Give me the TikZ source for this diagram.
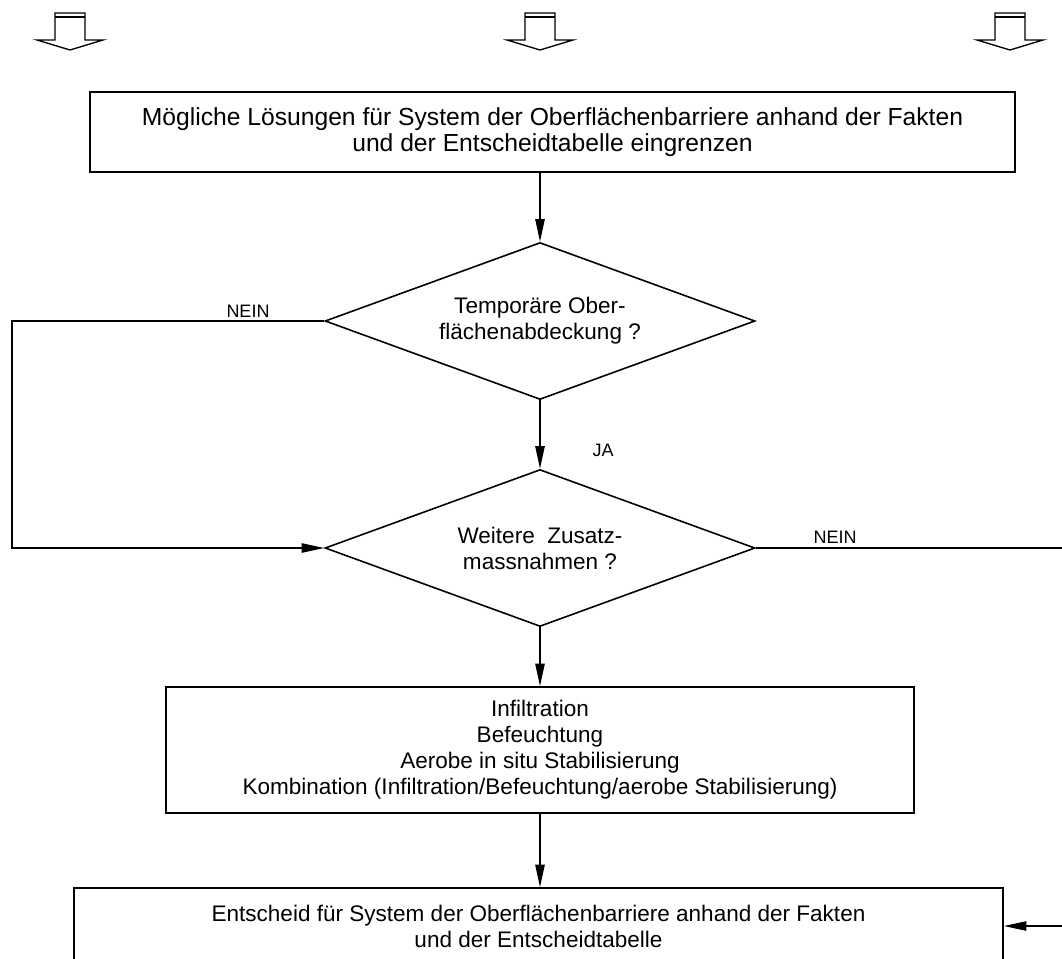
\documentclass[tikz,border=0pt]{standalone}
\usepackage{fontspec}
\setmainfont{Liberation Sans}
\usetikzlibrary{shapes.geometric,arrows.meta}
\begin{document}
\begin{tikzpicture}[x=0.75pt,y=-0.75pt,line width=1.2pt,>={Triangle[length=17pt,width=7pt]},
  kasten/.style={draw,align=center,inner sep=0pt,font=\fontsize{16.9}{19.5}\selectfont},
  raute/.style={draw,diamond,aspect=2.74,inner sep=0pt,minimum width=322.5pt,minimum height=117.75pt,
    align=center,font=\fontsize{16.9}{19.5}\selectfont},
  lbl/.style={font=\fontsize{13.5}{16}\selectfont}]
  \useasboundingbox (0,0) rectangle (1062,958);
  % hohle Pfeile oben
  \foreach \ax in {70,540,1010}{
    \draw[line width=1pt] (\ax-15,13)--(\ax-15,40)--(\ax-33,40)--(\ax,50)--(\ax+33,40)--(\ax+15,40)--(\ax+15,13)--cycle;
    \draw[line width=1pt] (\ax-15,17)--(\ax+15,17);
  }
  % Kasten und Rauten
  \node[kasten,minimum width=693.75pt,minimum height=60pt,font=\fontsize{18.5}{19.5}\selectfont] (start) at (552.5,132)
    {Mögliche Lösungen für System der Oberflächenbarriere anhand der Fakten\\und der Entscheidtabelle eingrenzen};
  \node[raute] (d1) at (540,321) {Temporäre Ober-\\flächenabdeckung ?};
  \node[raute] (d2) at (540,548) {Weitere\ \ Zusatz-\\massnahmen ?};
  \node[kasten,minimum width=561pt,minimum height=94.5pt] (mid) at (540,750)
    {Infiltration\\Befeuchtung\\Aerobe in situ Stabilisierung\\Kombination (Infiltration/Befeuchtung/aerobe Stabilisierung)};
  \node[kasten,minimum width=696.75pt,minimum height=57pt] (end) at (538.5,926)
    {Entscheid für System der Oberflächenbarriere anhand der Fakten\\und der Entscheidtabelle};
  % Beschriftungen
  \node[lbl] (nein1) at (248,311) {NEIN};
  \node[lbl] (ja) at (603,450) {JA};
  \node[lbl] (nein2) at (835,537) {NEIN};
  % Hilfspunkte am Rand
  \coordinate (links) at (12,434);
  \coordinate (raus) at (1070,548);
  \coordinate (rein) at (1070,926);
  % Verbindungen
  \draw[->] (d1.north |- start.south)--(d1.north);
  \draw[->] (d1.south)--(d2.north);
  \draw[->] (d1.west) -| (links) |- (d2.west);
  \draw (d2.east)--(raus);
  \draw[->] (d2.south)--(mid.north);
  \draw[->] (mid.south)--(mid.south |- end.north);
  \draw[->] (rein)--(end.east);
\end{tikzpicture}
\end{document}
